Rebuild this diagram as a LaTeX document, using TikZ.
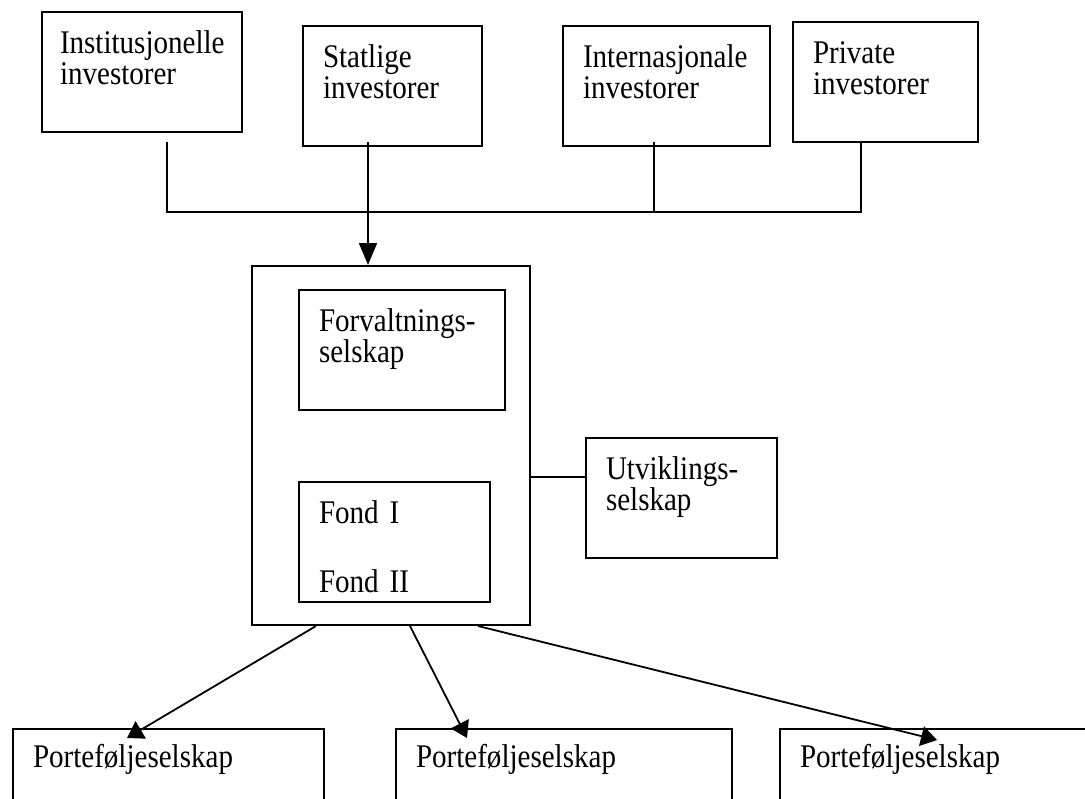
\documentclass[tikz,border=0pt]{standalone}
\usepackage{fontspec}
\setmainfont{Liberation Serif}[FakeStretch=0.88]
\usetikzlibrary{arrows.meta,calc}
\begin{document}
\begin{tikzpicture}[
    x=0.5pt, y=-0.5pt,
    box/.style={draw, line width=1pt, anchor=north west, align=left,
      inner xsep=10pt, inner ysep=0pt, text height=20.5pt, text depth=39.5pt,
      font=\fontsize{16.5}{15.5}\selectfont},
    fund/.style={draw, line width=1pt, anchor=north west, inner sep=0pt,
      minimum width=139pt, minimum height=179.5pt},
    link/.style={line width=0.9pt},
    arr/.style={line width=0.9pt, -{Triangle[length=11pt, width=9pt]}},
    down/.style={line width=0.9pt, -{Triangle[length=8pt, width=10pt]}}
  ]
    \useasboundingbox (0,0) rectangle (1085,798);
    \clip (0,0) rectangle (1085,798);
    \node[box, inner xsep=9pt, text width=82pt] (inst) at (41,11) {Institusjonelle\\investorer};
    \node[box, text width=69.5pt] (stat) at (302,25) {Statlige\\investorer};
    \node[box, text width=83.5pt] (inter) at (562,25) {Internasjonale\\investorer};
    \node[box, text width=72.5pt] (priv) at (792,21) {Private\\investorer};
    \node[fund] (fund) at (251,265) {};
    \node[box, text width=83pt] (forv) at (298,289) {Forvaltnings-\\selskap};
    \node[box, text width=75.5pt] (fond) at (298,481) {Fond I\\[19pt]Fond II};
    \node[box, text width=75.5pt] (utv) at (585,437) {Utviklings-\\selskap};
    \node[box, text width=135.5pt, text height=19pt, text depth=60pt] (port1) at (12,728) {Porteføljeselskap};
    \node[box, text width=148pt, text height=19pt, text depth=60pt] (port2) at (395,728) {Porteføljeselskap};
    \node[box, text width=190pt, text height=19pt, text depth=60pt] (port3) at (779,728) {Porteføljeselskap};
    \coordinate (bl) at (167,212);
    \coordinate (br) at (861,212);
    \coordinate (bs) at (368,212);
    \coordinate (bi) at (654,212);
    \coordinate (uj) at (555,477);
    \draw[link] ($(inst.south -| bl)+(0,9)$) -- (bl) -- (br) -- (priv.south -| br);
    \draw[link] ($(inter.south -| bi)+(0,-5)$) -- (bi);
    \draw[arr] ($(stat.south -| bs)+(0,-5)$) -- (fund.north -| bs);
    \draw[link] (fund.east |- uj) -- (utv.west |- uj);
    \draw[down] ($(fund.south west)+(65,0)$) -- ($(port1.north west)+(115,10)$);
    \draw[down] ($(fund.south west)+(159,0)$) -- ($(port2.north west)+(72,10)$);
    \draw[down] ($(fund.south west)+(227,0)$) -- ($(port3.north west)+(158,12)$);
  \end{tikzpicture}
\end{document}
